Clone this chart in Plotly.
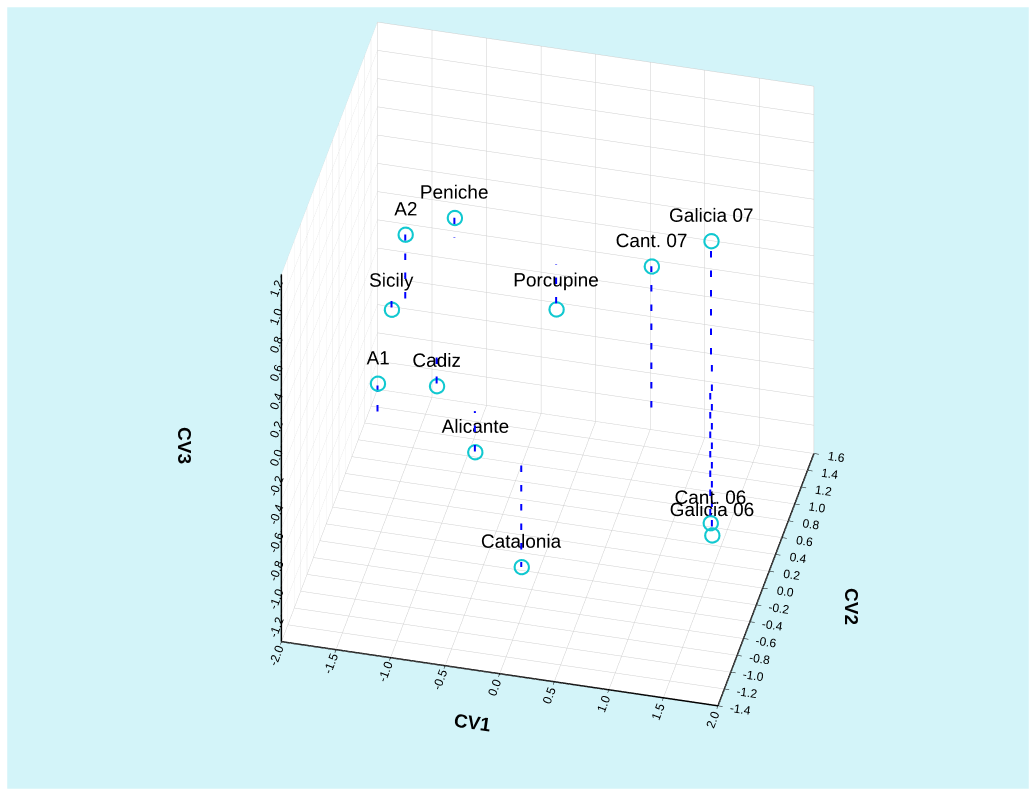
import plotly.graph_objects as go

# Canonical variate scores per sampling site
sites = ["Peniche", "A2", "Sicily", "Porcupine", "Cant. 07", "Galicia 07",
         "Cant. 06", "Galicia 06", "A1", "Cadiz", "Alicante", "Catalonia"]
cv1 = [-1.18, -1.37, -1.54, -0.21, 1.10, 1.45, 1.54, 1.44, -1.24, -0.98, -0.43, 0.11]
cv2 = [1.21, 0.32, 0.47, 1.08, -0.41, 0.26, -0.07, 0.32, -0.99, -0.03, -0.71, -1.10]
cv3 = [0.14, 0.53, -0.11, -0.32, 1.02, 0.84, -0.95, -1.28, 0.27, -0.29, -0.29, -0.81]
label_pos = ["top center"] * len(sites)

cv1_ticks = [-2.0, -1.5, -1.0, -0.5, 0.0, 0.5, 1.0, 1.5, 2.0]
cv2_ticks = [-1.4, -1.2, -1.0, -0.8, -0.6, -0.4, -0.2, 0.0, 0.2, 0.4, 0.6, 0.8, 1.0, 1.2, 1.4, 1.6]
cv3_ticks = [-1.2, -1.0, -0.8, -0.6, -0.4, -0.2, 0.0, 0.2, 0.4, 0.6, 0.8, 1.0, 1.2]

BG = "#d3f4f9"
FONT = "Arial, Liberation Sans, sans-serif"

# spikes from each point to the CV3 = 0 plane
sx, sy, sz = [], [], []
for a, b, c in zip(cv1, cv2, cv3):
    sx += [a, a, None]
    sy += [b, b, None]
    sz += [c, 0.0, None]

fig = go.Figure()
fig.add_trace(go.Scatter3d(
    x=sx, y=sy, z=sz, mode="lines",
    line=dict(color="#0000ff", width=4, dash="dash"),
    hoverinfo="skip", showlegend=False))
fig.add_trace(go.Scatter3d(
    x=cv1, y=cv2, z=cv3, mode="markers+text",
    text=sites, textposition=label_pos,
    textfont=dict(family=FONT, size=19, color="black"),
    marker=dict(symbol="circle-open", size=9, color="#10c8d0",
                line=dict(color="#10c8d0", width=2)),
    showlegend=False))


def axis(rng, ticks, fmt):
    return dict(
        title=dict(text=""),
        range=rng, tickvals=ticks, ticktext=[fmt.format(t) for t in ticks],
        tickfont=dict(family=FONT, size=12, color="black"),
        showgrid=True, gridcolor="#cfcfcf", gridwidth=1,
        showline=True, linecolor="black", linewidth=3,
        ticks="outside", ticklen=5, tickcolor="black",
        showbackground=True, backgroundcolor="white",
        zeroline=False, showspikes=False, autorange=False)


def axis_title(text, x, y, angle):
    return dict(text=f"<b>{text}</b>", x=x, y=y, xref="paper", yref="paper",
                xanchor="center", yanchor="middle", showarrow=False, textangle=angle,
                font=dict(family=FONT, size=19, color="black"))


# camera: orthographic view from front-right, above
shift = (-0.0616, -0.0691, -0.0671)
eye = (0.319, -1.349, 1.100)
W, H = 1035, 796

fig.update_layout(
    width=W, height=H,
    margin=dict(l=0, r=0, t=0, b=0),
    paper_bgcolor="white",
    shapes=[dict(type="rect", xref="paper", yref="paper",
                 x0=0.007, x1=0.994, y0=0.009, y1=0.991,
                 fillcolor=BG, line=dict(width=0), layer="below")],
    annotations=[
        axis_title("CV1", 472 / W, 1 - 722 / H, 8),
        axis_title("CV2", 852 / W, 1 - 606 / H, 90),
        axis_title("CV3", 184 / W, 1 - 445 / H, 90),
    ],
    scene=dict(
        domain=dict(x=[0, 1], y=[0, 1]),
        xaxis=axis([-2.0, 2.0], cv1_ticks, "{:.1f}"),
        yaxis=axis([-1.4, 1.6], cv2_ticks, "{:.1f}"),
        zaxis=axis([-1.4, 1.2], cv3_ticks, "{:.1f}"),
        aspectmode="manual",
        aspectratio=dict(x=1.127, y=1.048, z=1.178),
        bgcolor="rgba(0,0,0,0)",
        camera=dict(
            eye=dict(x=eye[0] + shift[0], y=eye[1] + shift[1], z=eye[2] + shift[2]),
            center=dict(x=shift[0], y=shift[1], z=shift[2]),
            up=dict(x=0, y=0, z=1),
            projection=dict(type="orthographic")),
    ),
)

fig.write_html("out.html")
